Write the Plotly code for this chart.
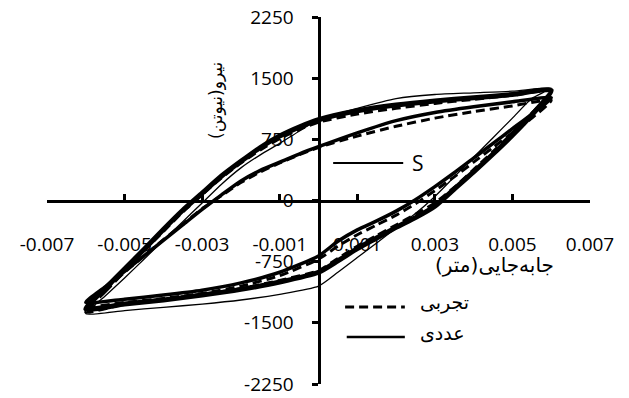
import plotly.graph_objects as go

# displacement grid (m), loading branch then unloading branch
X_UP = [-0.006, -0.0055, -0.005, -0.0045, -0.004, -0.0035, -0.003, -0.0025, -0.002, -0.0015,
        -0.001, -0.0005, 0.0, 0.001, 0.002, 0.003, 0.004, 0.005, 0.006]
X_DOWN = [0.006, 0.0055, 0.005, 0.0045, 0.004, 0.0035, 0.003, 0.0025, 0.002, 0.0015,
          0.001, 0.0005, 0.0, -0.001, -0.002, -0.003, -0.004, -0.005, -0.006]

# numerical (solid) loops, force (N)
NUM_OUTER_UP = [-1330, -1080, -840, -600, -355, -120, 90, 300, 480, 650, 790, 900, 990, 1100, 1170, 1220, 1260, 1300, 1350]
NUM_OUTER_DOWN = [1350, 1050, 800, 570, 350, 140, -70, -210, -330, -460, -590, -740, -880, -1000, -1090, -1160, -1220, -1270, -1330]
NUM_INNER_UP = [-1250, -1060, -870, -680, -490, -300, -110, 70, 240, 370, 470, 570, 660, 830, 980, 1080, 1150, 1210, 1260]
NUM_INNER_DOWN = [1260, 1060, 880, 700, 520, 340, 170, 10, -130, -250, -360, -500, -680, -880, -1010, -1100, -1160, -1210, -1250]
S_UP = [-1390, -1170, -950, -720, -490, -260, -30, 200, 400, 560, 700, 850, 990, 1130, 1250, 1300, 1320, 1340, 1380]
S_DOWN = [1380, 1250, 1010, 770, 530, 290, 50, -160, -340, -520, -700, -880, -1050, -1150, -1220, -1270, -1310, -1350, -1390]

# experimental (dashed) loops
EXP_INNER_UP = [-1300, -1090, -880, -680, -480, -290, -100, 60, 220, 350, 460, 560, 650, 790, 910, 1010, 1090, 1160, 1230]
EXP_INNER_DOWN = [1230, 1010, 830, 650, 470, 290, 120, -40, -180, -300, -420, -560, -720, -920, -1050, -1140, -1200, -1250, -1300]
EXP_OUTER_UP = [-1370, -1120, -870, -620, -380, -140, 70, 280, 460, 620, 760, 870, 960, 1060, 1130, 1190, 1240, 1290, 1340]
EXP_OUTER_DOWN = [1340, 1070, 830, 600, 380, 160, -30, -170, -300, -430, -560, -710, -860, -980, -1080, -1150, -1210, -1270, -1370]

X_TICKS = [-0.007, -0.005, -0.003, -0.001, 0.001, 0.003, 0.005, 0.007]
X_LABELS = ['-0.007', '-0.005', '-0.003', '-0.001', '0.001', '0.003', '0.005', '0.007']
Y_TICKS = [-2250, -1500, -750, 0, 750, 1500, 2250]
Y_LABELS = ['-2250', '-1500', '-750', '0', '750', '1500', '2250']

FONT = 'Open Sans, DejaVu Sans'
FA_FONT = 'DejaVu Sans'
DASH = '9px,5px'

def loop(y_up, y_down):
  return X_UP + X_DOWN[1:], y_up + y_down[1:]

def add_loop(fig, y_up, y_down, name, width, dash = 'solid'):
  x, y = loop(y_up, y_down)
  fig.add_trace(go.Scatter(
    x = x, y = y, mode = 'lines', name = name, showlegend = False,
    line = dict(color = 'black', width = width, dash = dash, shape = 'spline', smoothing = 0.6),
  ))

def key(x0, x1, y, dash, width):
  # legend sample line, paper coords
  return dict(type = 'line', xref = 'paper', yref = 'paper', x0 = x0, x1 = x1, y0 = y, y1 = y,
              line = dict(color = 'black', width = width, dash = dash))

def label(text, x, y, size = 18, family = FONT, **kw):
  return dict(text = text, x = x, y = y, xref = 'paper', yref = 'paper', showarrow = False,
              font = dict(size = size, family = family), **kw)

fig = go.Figure()
add_loop(fig, EXP_OUTER_UP, EXP_OUTER_DOWN, 'تجربی', 3, dash = DASH)
add_loop(fig, EXP_INNER_UP, EXP_INNER_DOWN, 'تجربی', 3, dash = DASH)
add_loop(fig, NUM_OUTER_UP, NUM_OUTER_DOWN, 'عددی', 5)
add_loop(fig, NUM_INNER_UP, NUM_INNER_DOWN, 'عددی', 3.5)
add_loop(fig, S_UP, S_DOWN, 'S', 1.3)

fig.update_layout(
  width = 621, height = 390,
  margin = dict(l = 39, r = 39, t = 9, b = 14),
  plot_bgcolor = 'white', paper_bgcolor = 'white',
  font = dict(family = FONT, size = 19, color = 'black'),
  showlegend = False,
  xaxis = dict(
    range = [-0.007, 0.007], tickvals = X_TICKS, ticktext = X_LABELS, automargin = False,
    anchor = 'free', position = 0.5, showline = True, linecolor = 'black', linewidth = 3,
    ticks = 'inside', ticklen = 6, tickwidth = 3, tickcolor = 'black',
    showgrid = False, zeroline = False, layer = 'below traces', ticklabelstandoff = 26,
  ),
  yaxis = dict(
    range = [-2250, 2250], tickvals = Y_TICKS, ticktext = Y_LABELS, automargin = False,
    anchor = 'free', position = 0.5, showline = True, linecolor = 'black', linewidth = 3,
    ticks = 'outside', ticklen = 6, tickwidth = 3, tickcolor = 'black', ticklabeloverflow = 'allow',
    showgrid = False, zeroline = False, layer = 'below traces', ticklabelstandoff = 14,
  ),
  shapes = [
    key(0.527, 0.656, 0.602, 'solid', 2),
    key(0.549, 0.659, 0.210, DASH, 3),
    key(0.552, 0.659, 0.128, 'solid', 2.5),
  ],
  annotations = [
    label('جابه\u200cجایی(متر)', 0.937, 0.285, size = 20, family = FA_FONT),
    label('نیرو(نیوتن)', 0.29, 0.883, size = 17, family = FA_FONT, textangle = -90),
    label('S', 0.668, 0.602, size = 21, xanchor = 'left'),
    label('تجربی', 0.683, 0.186, size = 19, family = FA_FONT, xanchor = 'left'),
    label('عددی', 0.683, 0.104, size = 19, family = FA_FONT, xanchor = 'left'),
  ],
)

fig.write_html('out.html')
